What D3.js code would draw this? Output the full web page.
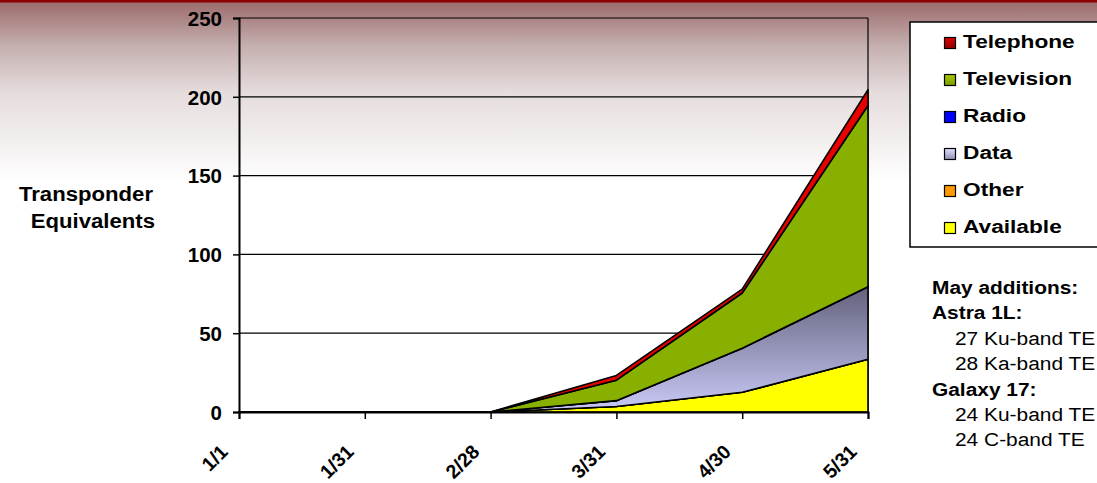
<!DOCTYPE html>
<html>
<head>
<meta charset="utf-8">
<script src="https://cdn.jsdelivr.net/npm/d3@7/dist/d3.min.js"></script>
<style>
  html, body { margin: 0; padding: 0; background: #fff; }
  svg { display: block; font-family: "Liberation Sans", Arial, sans-serif; }
</style>
</head>
<body>
<svg id="chart" width="1097" height="483"></svg>
<script>
// ---- data ----
const categories = ["1/1", "1/31", "2/28", "3/31", "4/30", "5/31"];
const yTickValues = [0, 50, 100, 150, 200, 250];
const seriesOrder = ["Available", "Other", "Data", "Radio", "Television", "Telephone"];
const available  = [0, 0, 0, 3.5, 12.5, 33.5];
const other      = [0, 0, 0, 0, 0, 0];
const dataSeries = [0, 0, 0, 3.7, 28, 46];
const radio      = [0, 0, 0, 0, 0, 0];
const television = [0, 0, 0, 13, 35, 115];
const telephone  = [0, 0, 0, 3, 2.5, 10];
const legendOrder = ["Telephone", "Television", "Radio", "Data", "Other", "Available"];
const yTitle = ["Transponder", "Equivalents"];
const notes = [
  {text: "May additions:", bold: true},
  {text: "Astra 1L:", bold: true},
  {text: "27 Ku-band TE", bold: false},
  {text: "28 Ka-band TE", bold: false},
  {text: "Galaxy 17:", bold: true},
  {text: "24 Ku-band TE", bold: false},
  {text: "24 C-band TE", bold: false}
];

const valuesBySeries = {
  Available: available, Other: other, Data: dataSeries,
  Radio: radio, Television: television, Telephone: telephone
};
const table = categories.map((c, i) => {
  const row = {cat: c};
  seriesOrder.forEach(k => row[k] = valuesBySeries[k][i]);
  return row;
});

const fills = {
  Telephone: "#e80000", Television: "#88b000", Radio: "#0000ff",
  Data: "url(#gData)", Other: "#ff9900", Available: "#ffff00"
};
const swatchFills = {
  Telephone: "url(#sTel)", Television: "url(#sTv)", Radio: "#0000ff",
  Data: "url(#sData)", Other: "#ff9900", Available: "#ffff00"
};

// ---- layout ----
const svg = d3.select("#chart");
const W = 1097, H = 483;
const mLeft = 239, mRight = 868, mTop = 18, mBottom = 412;

const defs = svg.append("defs");
const bg = defs.append("linearGradient").attr("id", "bg")
  .attr("x1", 0).attr("y1", 0).attr("x2", 0).attr("y2", 1);
bg.append("stop").attr("offset", "0").attr("stop-color", "#9c6c6c");
bg.append("stop").attr("offset", "0.25").attr("stop-color", "#c6b0b0");
bg.append("stop").attr("offset", "0.5").attr("stop-color", "#e5dcdc");
bg.append("stop").attr("offset", "1").attr("stop-color", "#ffffff");

const gData = defs.append("linearGradient").attr("id", "gData")
  .attr("x1", 0).attr("y1", 0).attr("x2", 0).attr("y2", 1);
gData.append("stop").attr("offset", "0").attr("stop-color", "#62627c");
gData.append("stop").attr("offset", "1").attr("stop-color", "#cacaf8");

function vgrad(id, c1, c2) {
  const g = defs.append("linearGradient").attr("id", id)
    .attr("x1", 0).attr("y1", 0).attr("x2", 0).attr("y2", 1);
  g.append("stop").attr("offset", "0").attr("stop-color", c1);
  g.append("stop").attr("offset", "1").attr("stop-color", c2);
}
vgrad("sTel", "#e00000", "#900000");
vgrad("sTv", "#a8c800", "#78a000");
vgrad("sData", "#e0e0ff", "#9090b8");

// background
svg.append("rect").attr("x", 0).attr("y", 0).attr("width", W).attr("height", H).attr("fill", "#ffffff");
svg.append("rect").attr("x", 0).attr("y", 2).attr("width", W).attr("height", 180).attr("fill", "url(#bg)");
svg.append("rect").attr("x", 0).attr("y", 0).attr("width", W).attr("height", 2.5).attr("fill", "#8b0000");

// scales
const x = d3.scalePoint().domain(categories).range([mLeft, mRight]);
const y = d3.scaleLinear().domain([0, 250]).range([mBottom, mTop]);

// gridlines
svg.append("g").selectAll("line").data(yTickValues.filter(v => v > 0)).join("line")
  .attr("x1", mLeft).attr("x2", mRight)
  .attr("y1", d => y(d)).attr("y2", d => y(d))
  .attr("stroke", "#000").attr("stroke-width", 1.2);
svg.append("line").attr("x1", mRight).attr("x2", mRight).attr("y1", mTop).attr("y2", mBottom)
  .attr("stroke", "#000").attr("stroke-width", 1.2);

// stacked areas
const stack = d3.stack().keys(seriesOrder);
const layers = stack(table);
const area = d3.area()
  .x(d => x(d.data.cat))
  .y0(d => y(d[0]))
  .y1(d => y(d[1]));
svg.append("g").selectAll("path").data(layers).join("path")
  .attr("d", area)
  .attr("fill", d => fills[d.key])
  .attr("stroke", "#000")
  .attr("stroke-width", 1.6)
  .attr("stroke-linejoin", "round");

// axes
const yAxis = d3.axisLeft(y).tickValues(yTickValues).tickSize(6).tickPadding(11);
const gy = svg.append("g").attr("transform", `translate(${mLeft},0)`).call(yAxis);
gy.select(".domain").attr("stroke-width", 2);
gy.selectAll(".tick line").attr("stroke-width", 1.5);
gy.selectAll("text")
  .attr("font-size", 20.5).attr("font-weight", "bold").attr("fill", "#000")
  .attr("font-family", "Liberation Sans, Arial, sans-serif")
  .attr("dy", "0.36em");

const xAxis = d3.axisBottom(x).tickSize(7).tickFormat("");
const gx = svg.append("g").attr("transform", `translate(0,${mBottom})`).call(xAxis);
gx.select(".domain").attr("stroke-width", 2);
gx.selectAll(".tick line").attr("stroke-width", 1.5);

svg.append("g").selectAll("text").data(categories).join("text")
  .attr("transform", d => `translate(${x(d) - 10},453) rotate(-45)`)
  .attr("text-anchor", "end")
  .attr("font-size", 19.5).attr("font-weight", "bold")
  .text(d => d);

// y title
svg.append("g").selectAll("text").data(yTitle).join("text")
  .attr("transform", (d, i) => `translate(${i === 0 ? 153 : 155},${201 + i * 27}) scale(1.08,1)`)
  .attr("text-anchor", "end")
  .attr("font-size", 20.5).attr("font-weight", "bold")
  .text(d => d);

// legend
const lg = svg.append("g");
lg.append("rect").attr("x", 910).attr("y", 22).attr("width", 200).attr("height", 225)
  .attr("fill", "#fff").attr("stroke", "#000").attr("stroke-width", 1.5);
const li = lg.selectAll("g.item").data(legendOrder).join("g").attr("class", "item")
  .attr("transform", (d, i) => `translate(0,${48 + i * 37})`);
li.append("rect").attr("x", 944.5).attr("y", -10.5).attr("width", 11).attr("height", 11)
  .attr("fill", d => swatchFills[d]).attr("stroke", "#000").attr("stroke-width", 1.2);
li.append("text")
  .attr("transform", "translate(963,0) scale(1.22,1)")
  .attr("font-size", 18.6).attr("font-weight", "bold")
  .text(d => d);

// notes
svg.append("g").selectAll("text").data(notes).join("text")
  .attr("transform", (d, i) => `translate(${d.bold ? 932 : 955},${294 + i * 25.4}) scale(1.1,1)`)
  .attr("font-size", 19).attr("font-weight", d => d.bold ? "bold" : "normal")
  .text(d => d.text);
</script>
</body>
</html>
